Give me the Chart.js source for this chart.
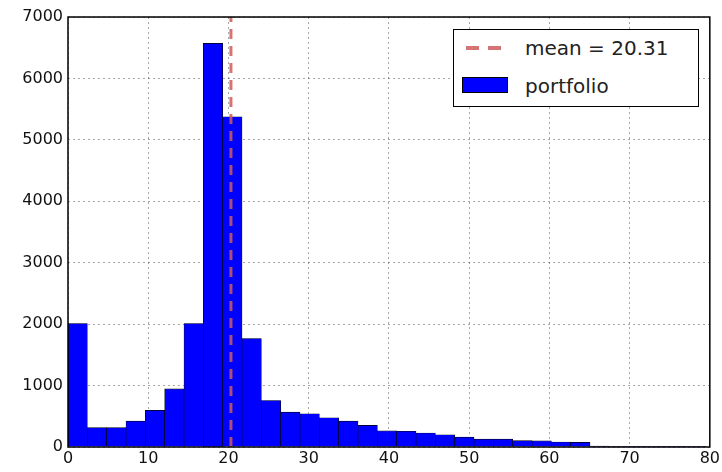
<!DOCTYPE html>
<html lang="en">
<head>
    <meta charset="UTF-8">
    <title>Portfolio histogram</title>
    <script src="https://cdn.jsdelivr.net/npm/chart.js"></script>
    <style>
        body { margin: 0; background: #fff; }
        .wrap { position: relative; width: 722px; height: 472px; }
        #chart { display: block; }
        .legend {
            position: absolute; left: 453px; top: 29px; width: 244px; height: 76px;
            border: 1px solid #000; background: #fff;
            font-family: "DejaVu Sans", sans-serif; font-size: 20px; color: #222;
        }
        .legend .row { position: absolute; left: 0; height: 30px; line-height: 30px; }
        .legend .dash {
            position: absolute; top: 13px; width: 13px; height: 0;
            border-top: 4px solid rgba(205, 92, 92, 0.85);
        }
        .legend .box {
            position: absolute; left: 8px; top: 6px; width: 46px; height: 16px;
            background: #0000ff; border: 1px solid #000; box-sizing: border-box;
        }
        .legend .txt { position: absolute; left: 71px; white-space: nowrap; }
    </style>
</head>
<body>
<div class="wrap">
    <canvas id="chart" width="722" height="472"></canvas>
    <div class="legend">
        <div class="row" style="top:3px"><span class="dash" style="left:12px"></span><span class="dash" style="left:34px"></span><span class="txt">mean = 20.31</span></div>
        <div class="row" style="top:41px"><span class="box"></span><span class="txt">portfolio</span></div>
    </div>
</div>
<script>
    // histogram data
    const binWidth = 2.41;
    const counts = [2010, 315, 315, 421, 595, 946, 2010, 6570, 5375, 1765, 757, 567, 541, 476, 421, 352,
                    262, 255, 227, 198, 160, 128, 128, 104, 100, 80, 74, 14, 9, 6, 4, 2, 1];
    const meanValue = 20.31;
    const xTicks = [0, 10, 20, 30, 40, 50, 60, 70, 80];
    const yTicks = [0, 1000, 2000, 3000, 4000, 5000, 6000, 7000];

    const barPoints = counts.map((c, i) => ({ x: i * binWidth + binWidth / 2, y: c }));

    // black frame around the plot area
    const frame = {
        id: "frame",
        afterDraw(chart) {
            const a = chart.chartArea, c = chart.ctx;
            c.save();
            c.strokeStyle = "#000";
            c.lineWidth = 1.5;
            c.strokeRect(a.left, a.top, a.right - a.left, a.bottom - a.top);
            c.restore();
        }
    };

    new Chart(document.getElementById("chart"), {
        type: "bar",
        data: {
            datasets: [
                {
                    type: "line",
                    label: "mean = " + meanValue,
                    data: [{ x: meanValue, y: 0 }, { x: meanValue, y: 7000 }],
                    borderColor: "rgba(205, 92, 92, 0.85)",
                    borderWidth: 3,
                    borderDash: [10, 7],
                    pointRadius: 0,
                    order: 0
                },
                {
                    label: "portfolio",
                    data: barPoints,
                    backgroundColor: "#0000ff",
                    borderColor: "#000",
                    borderWidth: 0.6,
                    barPercentage: 1,
                    categoryPercentage: 1,
                    grouped: false,
                    order: 1
                }
            ]
        },
        options: {
            responsive: false,
            animation: false,
            layout: { padding: { top: 17, right: 12, left: 0, bottom: 0 } },
            plugins: { legend: { display: false }, tooltip: { enabled: false } },
            scales: {
                x: {
                    type: "linear", min: 0, max: 80, offset: false,
                    afterBuildTicks: s => { s.ticks = xTicks.map(v => ({ value: v })); },
                    afterFit: s => { s.height = 25; },
                    ticks: { color: "#111", font: { family: "DejaVu Sans", size: 16 }, padding: 2, maxRotation: 0,
                             callback: v => String(v) },
                    grid: { color: "rgba(0,0,0,0.35)", lineWidth: 1, drawTicks: false, offset: false },
                    border: { display: false, dash: [2, 3] }
                },
                y: {
                    min: 0, max: 7000,
                    afterBuildTicks: s => { s.ticks = yTicks.map(v => ({ value: v })); },
                    afterFit: s => { s.width = 68; },
                    ticks: { color: "#111", font: { family: "DejaVu Sans", size: 16 }, padding: 5,
                             callback: v => String(v) },
                    grid: { color: "rgba(0,0,0,0.35)", lineWidth: 1, drawTicks: false },
                    border: { display: false, dash: [2, 3] }
                }
            }
        },
        plugins: [frame]
    });
</script>
</body>
</html>
